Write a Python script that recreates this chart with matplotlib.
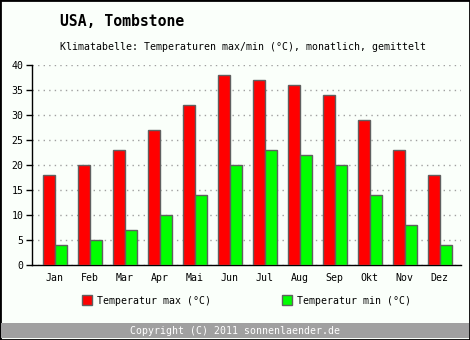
import matplotlib
matplotlib.use("Agg")
import matplotlib.pyplot as plt
from matplotlib.patches import Rectangle
import numpy as np

months = ["Jan", "Feb", "Mar", "Apr", "Mai", "Jun", "Jul", "Aug", "Sep", "Okt", "Nov", "Dez"]
temp_max = [18, 20, 23, 27, 32, 38, 37, 36, 34, 29, 23, 18]
temp_min = [4, 5, 7, 10, 14, 20, 23, 22, 20, 14, 8, 4]
y_ticks = [0, 5, 10, 15, 20, 25, 30, 35, 40]

W, H = 470, 340
bg = "#fafffa"
mono = ["DejaVu Sans Mono"]

fig = plt.figure(figsize=(W / 100, H / 100), dpi=100, facecolor=bg)

def fx(px):
    return px / W

def fy(py):
    return 1 - py / H

# outer frame and footer band
fig.patches.append(Rectangle((0, 0), 1, 1, transform=fig.transFigure, fill=False,
                             edgecolor="black", linewidth=2))
fig.patches.append(Rectangle((fx(1), fy(338)), fx(468), 15 / H, transform=fig.transFigure,
                             facecolor="#a0a0a0", edgecolor="none"))
fig.text(fx(235), fy(330.5), "Copyright (C) 2011 sonnenlaender.de", color="white",
         ha="center", va="center", fontsize=7.1, family=mono)

fig.text(fx(60), fy(22), "USA, Tombstone", fontsize=10.6, fontweight="bold",
         family=mono, ha="left", va="center")
fig.text(fx(60), fy(47), "Klimatabelle: Temperaturen max/min (°C), monatlich, gemittelt",
         fontsize=7.1, family=mono, ha="left", va="center")

ax = fig.add_axes([fx(32), fy(265), fx(461 - 32), 200 / H])
ax.set_facecolor(bg)
x = np.arange(len(months))
bw = 0.343
ax.bar(x - bw / 2, temp_max, bw, color="#ff0000", edgecolor="#606060", linewidth=1, zorder=3)
ax.bar(x + bw / 2, temp_min, bw, color="#00ff00", edgecolor="#606060", linewidth=1, zorder=3)

ax.set_xlim(-0.649, len(months) - 1 + 0.609)
ax.set_ylim(0, 40)
ax.set_yticks(y_ticks)
ax.set_xticks(x)
ax.set_xticklabels(months)
for lab in ax.get_xticklabels() + ax.get_yticklabels():
    lab.set_family(mono)
    lab.set_fontsize(7.1)
ax.tick_params(axis="x", length=0, pad=6)
ax.tick_params(axis="y", length=4, width=1, direction="out", pad=2)
ax.yaxis.grid(True, linestyle=(0, (1, 3)), color="#a0a0a0", linewidth=1, zorder=0)
for s in ["top", "right"]:
    ax.spines[s].set_visible(False)
ax.spines["left"].set_linewidth(1)
ax.spines["bottom"].set_linewidth(1)

# legend
for px, col, label in [(82, "#ff0000", "Temperatur max (°C)"),
                       (282, "#00ff00", "Temperatur min (°C)")]:
    fig.patches.append(Rectangle((fx(px), fy(305)), 10 / W, 10 / H, transform=fig.transFigure,
                                 facecolor=col, edgecolor="#606060", linewidth=1))
    fig.text(fx(px + 15), fy(300.5), label, fontsize=7.1, family=mono, ha="left", va="center")

fig.savefig("out.png", dpi=100, facecolor=bg)
